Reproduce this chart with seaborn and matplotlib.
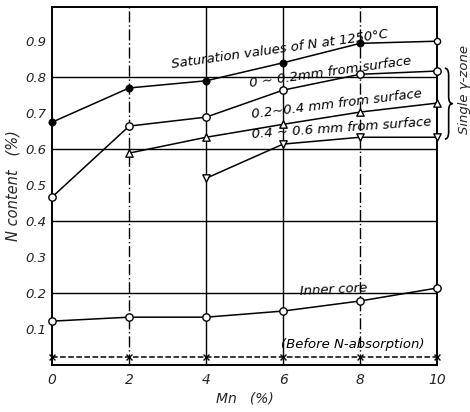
import matplotlib
matplotlib.use("Agg")
import matplotlib.pyplot as plt
from matplotlib.path import Path
from matplotlib.patches import PathPatch
import seaborn as sns
import pandas as pd

# Mn content (%)
mn = [0, 2, 4, 6, 8, 10]

# N content (%)
saturation = [0.675, 0.77, 0.79, 0.84, 0.894, 0.90]
depth_0_02 = [0.467, 0.664, 0.689, 0.764, 0.808, 0.817]
depth_02_04 = [None, 0.589, 0.633, 0.669, 0.703, 0.728]
depth_04_06 = [None, None, 0.519, 0.614, 0.633, 0.633]
inner_core = [0.122, 0.133, 0.133, 0.150, 0.178, 0.214]
before_abs = [0.022, 0.022, 0.022, 0.022, 0.022, 0.022]

series_names = ["sat", "d1", "d2", "d3", "core", "before"]
series_vals = [saturation, depth_0_02, depth_02_04, depth_04_06, inner_core, before_abs]

rows = []
for name, vals in zip(series_names, series_vals):
    for x, v in zip(mn, vals):
        if v is not None:
            rows.append({"Mn": x, "N": v, "series": name})
df = pd.DataFrame(rows)

sns.set_style("white")
plt.rcParams["font.family"] = ["DejaVu Sans"]
plt.rcParams["font.style"] = "italic"

fig = plt.figure(figsize=(4.7, 4.12), dpi=100)
ax = fig.add_axes([0.111, 0.114, 0.819, 0.869])

# grid
for gy in [0.2, 0.4, 0.6, 0.8]:
    ax.axhline(gy, color="black", lw=1.0, zorder=1)
for gx, ls in [(2, (0, (8, 2, 1, 2))), (4, "-"), (6, "-"), (8, (0, (8, 2, 1, 2)))]:
    ax.axvline(gx, color="black", lw=1.0, ls=ls, zorder=1)

# lines
for name in series_names:
    sub = df[df.series == name]
    ls = "--" if name == "before" else "-"
    sns.lineplot(data=sub, x="Mn", y="N", ax=ax, color="black", lw=1.1,
                 linestyle=ls, zorder=2, legend=False)

# markers
marker_map = {"sat": "o", "d1": "o", "d2": "^", "d3": "v", "core": "o", "before": "x"}
for name in series_names:
    sub = df[df.series == name]
    if name == "sat":
        filled = sub[sub.Mn < 10]
        hollow = sub[sub.Mn == 10]
        sns.scatterplot(data=filled, x="Mn", y="N", ax=ax, marker="o", s=28, clip_on=False,
                        color="black", edgecolor="black", zorder=3, legend=False)
        sns.scatterplot(data=hollow, x="Mn", y="N", ax=ax, marker="o", s=20, clip_on=False,
                        color="white", edgecolor="black", linewidth=1.0, zorder=3, legend=False)
    elif name == "before":
        sns.scatterplot(data=sub, x="Mn", y="N", ax=ax, marker="x", s=18, clip_on=False,
                        color="black", linewidth=1.0, zorder=3, legend=False)
    else:
        sns.scatterplot(data=sub, x="Mn", y="N", ax=ax, marker=marker_map[name], s=28,
                        clip_on=False, color="white", edgecolor="black", linewidth=1.0,
                        zorder=3, legend=False)

ax.set_xlim(0, 10)
ax.set_ylim(0, 0.995)
ax.set_xticks(mn)
ax.set_xticklabels([str(v) for v in mn], fontsize=10, style="italic")
ax.set_yticks([0.1, 0.2, 0.3, 0.4, 0.5, 0.6, 0.7, 0.8, 0.9])
ax.set_yticklabels(["0.1", "0.2", "0.3", "0.4", "0.5", "0.6", "0.7", "0.8", "0.9"],
                   fontsize=9.5, style="italic")
ax.tick_params(axis="x", length=0, pad=6)
ax.tick_params(axis="y", direction="in", length=5, width=1, pad=4)
for sp in ax.spines.values():
    sp.set_color("black")
    sp.set_linewidth(1.4)

ax.set_xlabel("Mn   (%)", fontsize=10, style="italic", labelpad=3)
ax.set_ylabel("N content   (%)", fontsize=10.5, style="italic", labelpad=4)

# curve labels
txt = dict(fontsize=9.5, style="italic", ha="center", va="center", color="black", zorder=4)
ax.text(5.92, 0.877, "Saturation values of N at 1250°C", rotation=8, **txt)
ax.text(7.22, 0.815, "0 ~ 0.2mm from surface", rotation=8, **txt)
ax.text(7.40, 0.726, "0.2~0.4 mm from surface", rotation=7, **txt)
ax.text(7.53, 0.657, "0.4 ~ 0.6 mm from surface", rotation=4, **txt)
ax.text(7.30, 0.210, "Inner core", rotation=3, **txt)
ax.text(7.80, 0.058, "(Before N-absorption)", **txt)

# curly brace for the single gamma zone (spans the three depth curves at 10 % Mn)
y_hi, y_lo = 0.825, 0.628
ym = (y_hi + y_lo) / 2
x0, w, d = 10.2, 0.2, 0.02
verts = [(x0, y_hi), (x0 + w / 2, y_hi), (x0 + w / 2, y_hi - d),
         (x0 + w / 2, ym + d),
         (x0 + w / 2, ym), (x0 + w, ym),
         (x0 + w / 2, ym), (x0 + w / 2, ym - d),
         (x0 + w / 2, y_lo + d),
         (x0 + w / 2, y_lo), (x0, y_lo)]
codes = [Path.MOVETO, Path.CURVE3, Path.CURVE3, Path.LINETO,
         Path.CURVE3, Path.CURVE3, Path.CURVE3, Path.CURVE3,
         Path.LINETO, Path.CURVE3, Path.CURVE3]
ax.add_patch(PathPatch(Path(verts, codes), fill=False, lw=1.2, color="black", clip_on=False))
ax.text(10.72, 0.765, "Single γ-zone", rotation=90, fontsize=9.5, style="italic",
        ha="center", va="center", clip_on=False)

plt.savefig("out.png", dpi=100)
